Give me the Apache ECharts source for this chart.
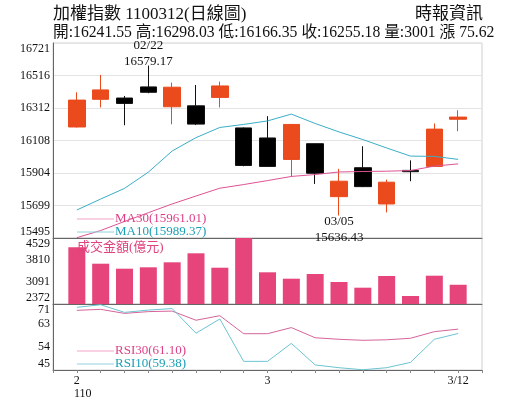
<!DOCTYPE html>
<html><head><meta charset="utf-8">
<script src="https://cdn.jsdelivr.net/npm/echarts/dist/echarts.min.js"></script>
<style>html,body{margin:0;padding:0;background:#fff}#c{width:515px;height:413px}</style>
</head><body><div id="c"></div>
<script>
const rocYear = '110';
const dates = ['02/17','02/18','02/19','02/22','02/23','02/24','02/25','02/26','03/02','03/03','03/04','03/05','03/08','03/09','03/10','03/11','03/12'];
// [open, close, low, high]
const ohlc = [
  [16193, 16362, 16190, 16411],
  [16367, 16426, 16316, 16520],
  [16375, 16341, 16204, 16388],
  [16445, 16411, 16405, 16579.17],
  [16320, 16443, 16210, 16472],
  [16326, 16211, 16205, 16457],
  [16379, 16451, 16316, 16478],
  [16187, 15951, 15946, 16190],
  [16124, 15945, 15942, 16261],
  [15989, 16209, 15882, 16212],
  [16088, 15902, 15835, 16090],
  [15755, 15852, 15636.43, 15930],
  [15937, 15818, 15815, 16072],
  [15709, 15846, 15656, 15862],
  [15920, 15912, 15852, 15983],
  [15945, 16179.56, 15942, 16215],
  [16241.55, 16255.18, 16166.35, 16298.03]
];
const ma10 = [15671, 15740, 15807, 15909, 16042, 16126, 16190, 16209, 16231, 16274, 16215, 16162, 16114, 16061, 16010, 16008, 15989.37];
const ma30 = [15497, 15542, 15599, 15654, 15709, 15759, 15808, 15831, 15856, 15882, 15894, 15910, 15913, 15915, 15919, 15947, 15961.01];
const volume = [4225, 3689, 3526, 3571, 3735, 4029, 3558, 4600, 3408, 3199, 3352, 3091, 2905, 3287, 2633, 3297, 3001];
const rsi10 = [69.7, 70.7, 67.7, 68.6, 69.2, 59.5, 65.1, 48.4, 48.4, 55.5, 47.0, 45.9, 45.1, 45.9, 48.0, 57.1, 59.38];
const rsi30 = [68.5, 68.9, 67.3, 68.0, 68.2, 64.6, 66.4, 59.3, 59.3, 61.7, 57.7, 57.1, 56.7, 56.9, 57.5, 60.1, 61.10];
const priceTicks = [15495, 15699, 15904, 16108, 16312, 16516, 16721];
const volumeTicks = [2372, 3091, 3810, 4529];
const rsiTicks = [45, 54, 63, 71];
const monthLabels = {'02/17': ['2', '110'], '03/02': ['3'], '03/12': ['3/12']};

const SERIF = "'Liberation Serif','Noto Sans CJK TC',serif";
const cats = [''].concat(dates, [' ']);
const pad = a => ['-'].concat(a, ['-']);
const padC = a => [['-','-','-','-']].concat(a, [['-','-','-','-']]);

const n = ohlc.length;
const last = ohlc[n - 1];
const prevClose = ohlc[n - 2][1];
const chg = last[1] - prevClose;
let hiIdx = 0, loIdx = 0;
ohlc.forEach((d, i) => { if (d[3] > ohlc[hiIdx][3]) hiIdx = i; if (d[2] < ohlc[loIdx][2]) loIdx = i; });

const L = 53, W = 429;
const chart = echarts.init(document.getElementById('c'));

function yAx(grid, ticks, split) {
  return {
    gridIndex: grid, type: 'value', min: ticks[0], max: ticks[ticks.length - 1],
    axisLine: {show: true, lineStyle: {color: '#666'}},
    axisTick: {show: false, customValues: ticks},
    axisLabel: {customValues: ticks, fontSize: 12, fontFamily: SERIF, color: '#111', margin: 3,
      verticalAlignMinLabel: 'bottom', verticalAlignMaxLabel: 'top',
      formatter: v => String(Math.round(v))},
    splitLine: {show: split, lineStyle: {color: '#e4e4e4'}}
  };
}
function xAx(grid, labels) {
  return {
    gridIndex: grid, type: 'category', data: cats, boundaryGap: false,
    axisLine: {show: true, lineStyle: {color: '#666'}},
    axisTick: {show: labels, interval: 0, length: 3, lineStyle: {color: '#888'}},
    axisLabel: labels ? {
      show: true, interval: 0, fontFamily: SERIF, fontSize: 12, color: '#111', margin: 4,
      formatter: v => {
        const m = monthLabels[v];
        if (!m) return '';
        return m.length > 1 ? '{a|' + m[0] + '}\n{b|' + m[1] + '}' : '{a|' + m[0] + '}';
      },
      rich: {
        a: {fontFamily: SERIF, fontSize: 12, color: '#111', lineHeight: 13},
        b: {fontFamily: SERIF, fontSize: 12, color: '#111', lineHeight: 13, padding: [0, 0, 0, 12]}
      }
    } : {show: false},
    splitLine: {show: false}
  };
}

const legendFont = '13px ' + SERIF;
function legendItem(y, lineColor, textColor, text) {
  return [
    {type: 'line', shape: {x1: 77, y1: y, x2: 114, y2: y}, style: {stroke: lineColor, lineWidth: 1}, z: 100},
    {type: 'text', x: 115, y: y, style: {text: text, font: legendFont, fill: textColor, verticalAlign: 'middle', align: 'left'}, z: 100}
  ];
}

const header2 = '開:' + last[0].toFixed(2) + ' 高:' + last[3].toFixed(2) + ' 低:' + last[2].toFixed(2) +
  ' 收:' + last[1].toFixed(2) + ' 量:' + volume[n - 1] + ' ' + (chg >= 0 ? '漲' : '跌') + ' ' + Math.abs(chg).toFixed(2);

chart.setOption({
  animation: false,
  backgroundColor: '#fff',
  grid: [
    {left: L, width: W, top: 43, height: 195, show: true, borderColor: '#d0d0d0', borderWidth: 1},
    {left: L, width: W, top: 238, height: 66, show: true, borderColor: '#d0d0d0', borderWidth: 1},
    {left: L, width: W, top: 304, height: 66, show: true, borderColor: '#d0d0d0', borderWidth: 1}
  ],
  xAxis: [xAx(0, false), xAx(1, false), xAx(2, true)],
  yAxis: [yAx(0, priceTicks, true), yAx(1, volumeTicks, false), yAx(2, rsiTicks, false)],
  series: [
    {type: 'candlestick', xAxisIndex: 0, yAxisIndex: 0, data: padC(ohlc), barWidth: 17,
      itemStyle: {color: '#ea4a1c', color0: '#000', borderColor: '#ea4a1c', borderColor0: '#111', borderWidth: 1},
      markPoint: {
        symbol: 'circle', symbolSize: 0, itemStyle: {color: 'transparent'},
        label: {show: true, color: '#111', fontFamily: SERIF, fontSize: 13, lineHeight: 16},
        data: [
          {coord: [dates[hiIdx], ohlc[hiIdx][3]], label: {position: 'top', distance: -4,
            formatter: dates[hiIdx] + '\n' + ohlc[hiIdx][3].toFixed(2)}},
          {coord: [dates[loIdx], ohlc[loIdx][2]], label: {position: 'bottom', distance: -2,
            formatter: dates[loIdx] + '\n' + ohlc[loIdx][2].toFixed(2)}}
        ]
      }
    },
    {type: 'line', xAxisIndex: 0, yAxisIndex: 0, data: pad(ma10), showSymbol: false, symbol: 'none',
      lineStyle: {color: '#3aaec6', width: 1}},
    {type: 'line', xAxisIndex: 0, yAxisIndex: 0, data: pad(ma30), showSymbol: false, symbol: 'none',
      lineStyle: {color: '#dc5394', width: 1}},
    {type: 'bar', xAxisIndex: 1, yAxisIndex: 1, data: pad(volume), barWidth: 17,
      itemStyle: {color: '#e5457a'}},
    {type: 'line', xAxisIndex: 2, yAxisIndex: 2, data: pad(rsi30), showSymbol: false, symbol: 'none',
      lineStyle: {color: '#d6649a', width: 1}},
    {type: 'line', xAxisIndex: 2, yAxisIndex: 2, data: pad(rsi10), showSymbol: false, symbol: 'none',
      lineStyle: {color: '#6cc4d2', width: 1}}
  ],
  graphic: [
    {type: 'text', x: 53, y: 15, style: {text: '加權指數 ' + rocYear + dates[n - 1].replace('/', '') + '(日線圖)',
      font: '17px ' + SERIF, fill: '#111', verticalAlign: 'middle', align: 'left'}},
    {type: 'text', x: 483, y: 15, style: {text: '時報資訊', font: '17px ' + SERIF, fill: '#111', verticalAlign: 'middle', align: 'right'}},
    {type: 'text', x: 53, y: 33, style: {text: header2, font: '15.7px ' + SERIF, fill: '#111', verticalAlign: 'middle', align: 'left'}},
    {type: 'text', x: 77, y: 248, style: {text: '成交金額(億元)', font: legendFont, fill: '#e0437c', verticalAlign: 'middle', align: 'left'}, z: 100}
  ].concat(
    legendItem(219, '#f2a6c6', '#dc3f86', 'MA30(' + ma30[n - 1].toFixed(2) + ')'),
    legendItem(232, '#8fd2de', '#1b9fb6', 'MA10(' + ma10[n - 1].toFixed(2) + ')'),
    legendItem(351, '#f2a6c6', '#dc3f86', 'RSI30(' + rsi30[n - 1].toFixed(2) + ')'),
    legendItem(364, '#8fd2de', '#1b9fb6', 'RSI10(' + rsi10[n - 1].toFixed(2) + ')')
  )
});
</script>
</body></html>
